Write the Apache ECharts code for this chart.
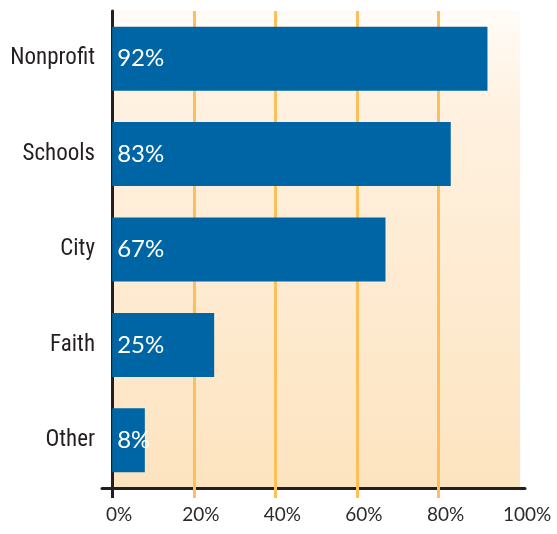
<!DOCTYPE html>
<html>
<head>
<meta charset="utf-8">
<script src="https://cdn.jsdelivr.net/npm/echarts@6/dist/echarts.min.js"></script>
<style>
  html, body { margin: 0; padding: 0; background: #fff; }
  #main { width: 557px; height: 534px; }
</style>
</head>
<body>
<div id="main"></div>
<script>
var categories = ['Nonprofit', 'Schools', 'City', 'Faith', 'Other'];
var values = [92, 83, 67, 25, 8];
var tickValues = [0, 20, 40, 60, 80, 100];
var gridValues = [20, 40, 60, 80];

var chart = echarts.init(document.getElementById('main'));

var option = {
    animation: false,
    grid: {
        left: 102,
        right: 32,
        top: 11,
        bottom: 46,
        outerBoundsMode: 'none'
    },
    xAxis: [
        {
            type: 'value',
            min: -2.5,
            max: 101.2,
            axisLine: { show: true, lineStyle: { color: '#231f20', width: 3 } },
            axisTick: {
                show: true,
                customValues: gridValues,
                length: 10,
                lineStyle: { color: '#fdbf5a', width: 3 }
            },
            axisLabel: {
                customValues: tickValues,
                formatter: '{value}%',
                margin: 17,
                padding: [0, 0, 0, 14],
                color: '#2b2b2b',
                fontFamily: 'Lato',
                fontSize: 19
            },
            splitLine: { show: false }
        },
        {
            type: 'value',
            min: -2.5,
            max: 101.2,
            position: 'bottom',
            axisLine: { show: false },
            axisTick: {
                show: true,
                customValues: [0],
                length: 10,
                lineStyle: { color: '#231f20', width: 3 }
            },
            axisLabel: { show: false },
            splitLine: { show: false }
        }
    ],
    yAxis: {
        type: 'category',
        inverse: true,
        data: categories,
        axisLine: { show: true, onZero: true, lineStyle: { color: '#231f20', width: 3 } },
        axisTick: { show: false },
        axisLabel: {
            margin: 7,
            color: '#231f20',
            fontStyle: 'condensed',
            fontWeight: 400,
            fontFamily: 'Roboto',
            fontSize: 23
        }
    },
    series: [
        {
            type: 'bar',
            data: values,
            barWidth: 64,
            itemStyle: { color: '#0065a5' },
            label: {
                show: true,
                position: 'insideLeft',
                distance: 5,
                formatter: '{c}%',
                color: '#fff',
                fontFamily: 'Lato',
                fontSize: 24
            },
            markArea: {
                silent: true,
                z: 0,
                itemStyle: {
                    opacity: 1,
                    color: {
                        type: 'linear', x: 0, y: 0, x2: 0, y2: 1,
                        colorStops: [
                            { offset: 0, color: '#fffcf8' },
                            { offset: 0.2, color: '#fff1e0' },
                            { offset: 1, color: '#fde4c0' }
                        ]
                    }
                },
                data: [[{ xAxis: 0 }, { xAxis: 100 }]]
            },
            markLine: {
                silent: true,
                z: 1,
                symbol: 'none',
                label: { show: false },
                lineStyle: { color: '#fdbf5a', width: 3, type: 'solid' },
                data: gridValues.map(function (v) { return { xAxis: v }; })
            }
        }
    ]
};
chart.setOption(option);
</script>
</body>
</html>
